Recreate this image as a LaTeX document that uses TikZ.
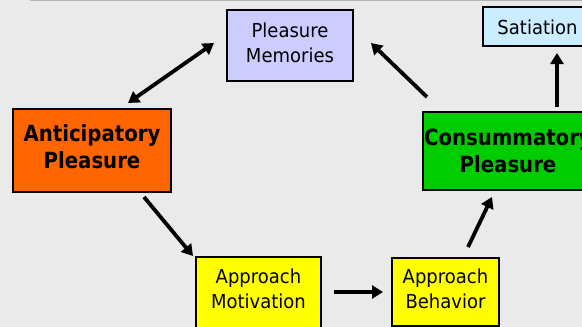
\documentclass[tikz,border=0pt]{standalone}
\usepackage{fontspec}
\usepackage{graphicx}
\setmainfont{DejaVu Sans}
\usetikzlibrary{arrows.meta}
\definecolor{bg}{HTML}{EAEAEA}
\definecolor{topline}{HTML}{B0B0B0}
\definecolor{memfill}{HTML}{CCCCFF}
\definecolor{satfill}{HTML}{CCECFF}
\definecolor{antfill}{HTML}{FF6600}
\definecolor{consfill}{HTML}{00CC00}
\definecolor{appfill}{HTML}{FFFF00}
\newcommand{\boxlines}[3]{\raisebox{#1}[\height][\depth]{\scalebox{1}[#2]{\begin{tabular}{@{}c@{}}#3\end{tabular}}}}
\tikzset{
  box/.style={draw=black, line width=1.3pt, align=center, inner sep=0pt, text=black},
  normaltext/.style={font=\fontsize{18}{24}\selectfont},
  boldtext/.style={font=\fontsize{19.7}{24}\selectfont\bfseries},
  arr/.style={line width=3.8pt, -{Triangle[width=13pt,length=11pt]}},
  dblarr/.style={line width=3.8pt, {Triangle[width=13pt,length=11pt]}-{Triangle[width=13pt,length=11pt]}}
}
\begin{document}
\begin{tikzpicture}[x=1pt,y=-1pt]
\useasboundingbox (0,0) rectangle (582,327);
\fill[bg] (0,0) rectangle (582,327);
\draw[topline, line width=1.4pt] (30,0.7) -- (582,0.7);
\begin{scope}
\clip (0,0) rectangle (582,327);
\node[box, normaltext, fill=memfill, minimum width=126pt, minimum height=71pt] (mem) at (290,45.5) {\boxlines{0.5pt}{1.07}{Pleasure\\Memories}};
\node[box, normaltext, fill=satfill, minimum width=109pt, minimum height=39pt] (sat) at (537.5,26.5) {\boxlines{-3pt}{1.07}{Satiation}};
\node[box, boldtext, fill=antfill, minimum width=158pt, minimum height=83pt] (ant) at (92,150.5) {\boxlines{1pt}{1.13}{Anticipatory\\Pleasure}};
\node[box, boldtext, fill=consfill, minimum width=170pt, minimum height=78pt] (cons) at (508,151) {\boxlines{-2.5pt}{1.13}{Consummatory\\Pleasure}};
\node[box, normaltext, fill=appfill, minimum width=125pt, minimum height=73pt] (mot) at (258.5,293.5) {\boxlines{2.5pt}{1.07}{Approach\\Motivation}};
\node[box, normaltext, fill=appfill, minimum width=107pt, minimum height=68pt] (beh) at (445.5,292) {\boxlines{1pt}{1.07}{Approach\\Behavior}};
\end{scope}
\coordinate (antTop) at (128,103);
\coordinate (memLeft) at (214,43);
\coordinate (antBot) at (144,197);
\coordinate (motTop) at (193,256);
\coordinate (motRight) at (334,292);
\coordinate (behLeft) at (383,292);
\coordinate (behTop) at (468,247);
\coordinate (consBot) at (492,197);
\coordinate (consTopL) at (427,97);
\coordinate (memRight) at (371,43);
\coordinate (consTopR) at (557,107);
\coordinate (satBot) at (557,53);
\draw[dblarr] (antTop) -- (memLeft);
\draw[arr] (antBot) -- (motTop);
\draw[arr] (motRight) -- (behLeft);
\draw[arr] (behTop) -- (consBot);
\draw[arr] (consTopL) -- (memRight);
\draw[arr] (consTopR) -- (satBot);
\end{tikzpicture}
\end{document}
